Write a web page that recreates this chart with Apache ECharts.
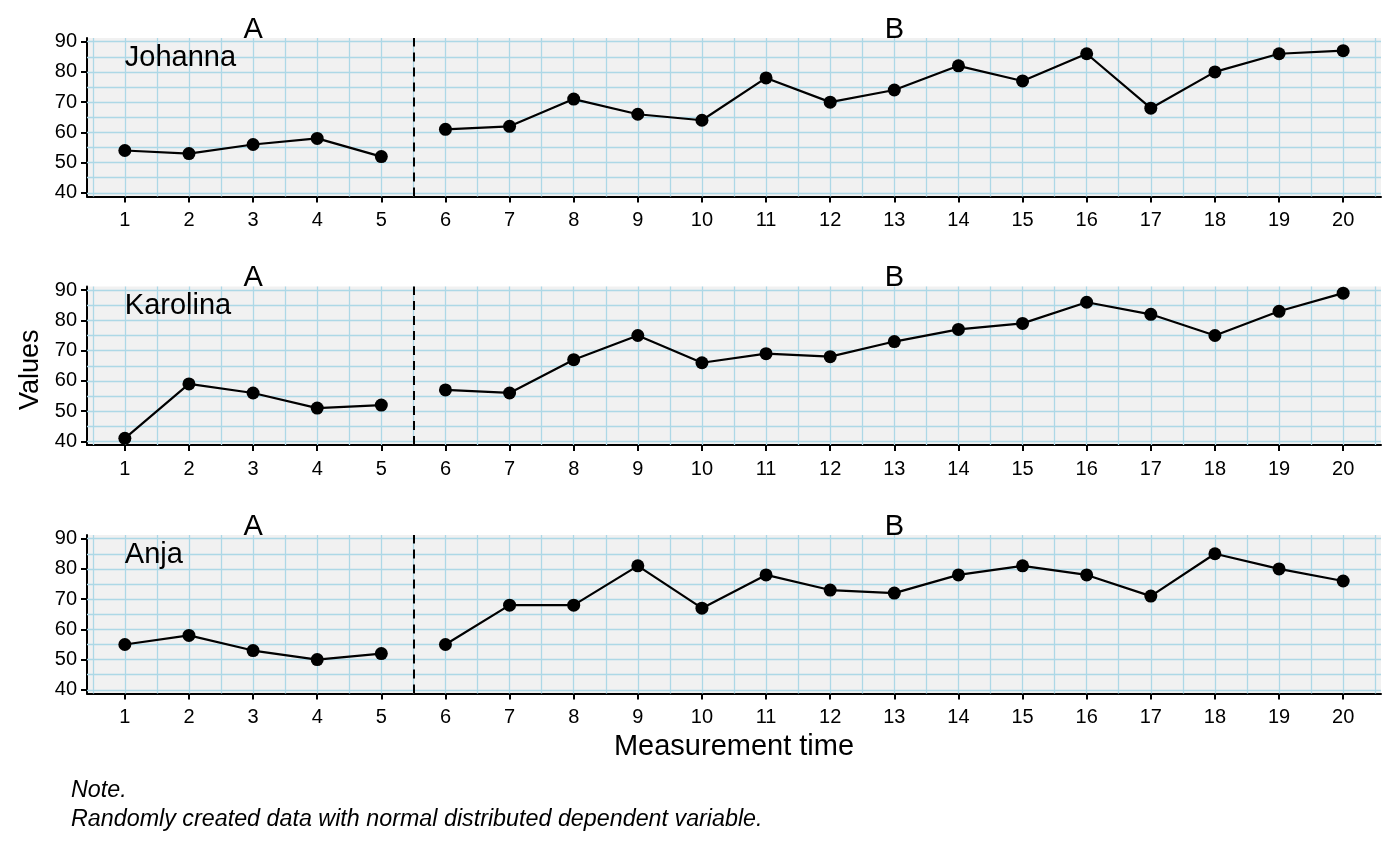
<!DOCTYPE html>
<html>
<head>
<meta charset="utf-8">
<script src="https://cdn.jsdelivr.net/npm/echarts@6/dist/echarts.min.js"></script>
<style>html,body{margin:0;padding:0;background:#fff}#c{width:1400px;height:866px}</style>
</head>
<body>
<div id="c"></div>
<script>
const cases = ['Johanna', 'Karolina', 'Anja'];
const phaseNames = ['A', 'B'];
const phaseA_x = [1, 2, 3, 4, 5];
const phaseB_x = [6, 7, 8, 9, 10, 11, 12, 13, 14, 15, 16, 17, 18, 19, 20];
const johannaA = [54, 53, 56, 58, 52];
const johannaB = [61, 62, 71, 66, 64, 78, 70, 74, 82, 77, 86, 68, 80, 86, 87];
const karolinaA = [41, 59, 56, 51, 52];
const karolinaB = [57, 56, 67, 75, 66, 69, 68, 73, 77, 79, 86, 82, 75, 83, 89];
const anjaA = [55, 58, 53, 50, 52];
const anjaB = [55, 68, 68, 81, 67, 78, 73, 72, 78, 81, 78, 71, 85, 80, 76];
const xTicks = [1, 2, 3, 4, 5, 6, 7, 8, 9, 10, 11, 12, 13, 14, 15, 16, 17, 18, 19, 20];
const xGridLines = [0.5, 1, 1.5, 2, 2.5, 3, 3.5, 4, 4.5, 5, 5.5, 6, 6.5, 7, 7.5, 8, 8.5, 9, 9.5, 10, 10.5,
  11, 11.5, 12, 12.5, 13, 13.5, 14, 14.5, 15, 15.5, 16, 16.5, 17, 17.5, 18, 18.5, 19, 19.5, 20, 20.5];
const yTicks = [40, 50, 60, 70, 80, 90];
const yGridLines = [40, 45, 50, 55, 60, 65, 70, 75, 80, 85, 90];
const phaseChange = 5.5;
const phaseLabelX = [3, 13];
const noteText = ['Note.', 'Randomly created data with normal distributed dependent variable.'];

const caseData = [[johannaA, johannaB], [karolinaA, karolinaB], [anjaA, anjaB]];

const FONT = 'Liberation Sans';
const gridTops = [38, 286.5, 535];
const GH = 158.5;
const XMIN = 0.41, XMAX = 20.59, YMIN = 38.8, YMAX = 91.2;
const gridCol = '#add8e6';

const grids = [], xAxes = [], yAxes = [], series = [];
cases.forEach((name, i) => {
  grids.push({left: 87, right: 19, top: gridTops[i], height: GH, show: true,
    backgroundColor: '#f1f1f1', borderWidth: 0});
  xAxes.push({
    type: 'value', gridIndex: i, min: XMIN, max: XMAX, position: 'bottom',
    name: i === 2 ? 'Measurement time' : '', nameLocation: 'middle', nameGap: 39,
    nameTextStyle: {fontFamily: FONT, fontSize: 29, color: '#000'},
    axisLine: {show: true, onZero: false, lineStyle: {color: '#000', width: 2}},
    axisTick: {show: true, length: 6, lineStyle: {color: '#000', width: 2}, customValues: xTicks},
    axisLabel: {customValues: xTicks, fontFamily: FONT, fontSize: 20, color: '#000', margin: 14},
    splitLine: {show: false}, minorSplitLine: {show: false}
  });
  yAxes.push({
    type: 'value', gridIndex: i, min: YMIN, max: YMAX, position: 'left',
    name: i === 1 ? 'Values' : '', nameLocation: 'middle', nameGap: 39,
    nameTextStyle: {fontFamily: FONT, fontSize: 27, color: '#000', padding: [0, 8, 0, 0]},
    axisLine: {show: true, onZero: false, lineStyle: {color: '#000', width: 2}},
    axisTick: {show: true, length: 6, lineStyle: {color: '#000', width: 2}, customValues: yTicks},
    axisLabel: {customValues: yTicks, fontFamily: FONT, fontSize: 20, color: '#000', margin: 10},
    splitLine: {show: false}, minorSplitLine: {show: false}
  });
  // background grid lines (through the axes' scales)
  series.push({
    type: 'line', xAxisIndex: i, yAxisIndex: i, z: 1, silent: true,
    data: caseData[i][0].map((v, k) => [phaseA_x[k], v]),
    symbol: 'none', lineStyle: {opacity: 0}, itemStyle: {opacity: 0},
    markLine: {silent: true, symbol: 'none', animation: false, label: {show: false},
      lineStyle: {color: gridCol, width: 1.3, type: 'solid'},
      emphasis: {disabled: true},
      data: xGridLines.map(v => ({xAxis: v})).concat(yGridLines.map(v => ({yAxis: v})))}
  });
  const xs = [phaseA_x, phaseB_x];
  caseData[i].forEach((vals, p) => {
    const s = {
      type: 'line', xAxisIndex: i, yAxisIndex: i,
      data: vals.map((v, k) => [xs[p][k], v]),
      symbol: 'circle', symbolSize: 13, showSymbol: true,
      itemStyle: {color: '#000'}, lineStyle: {color: '#000', width: 2.2},
      z: 5, silent: true
    };
    const mp = [{coord: [phaseLabelX[p], 91], value: phaseNames[p],
      label: {formatter: phaseNames[p], offset: [0, -9]}}];
    if (p === 0) {
      mp.push({coord: [1, 84.7], value: name,
        label: {formatter: name, align: 'left', offset: [0, 0]}});
      s.markLine = {silent: true, symbol: 'none', animation: false,
        label: {show: false},
        lineStyle: {color: '#000', width: 2, type: [9, 6]},
        data: [{xAxis: phaseChange}]};
    }
    s.markPoint = {silent: true, symbol: 'circle', symbolSize: 0, animation: false,
      label: {show: true, position: 'inside', fontFamily: FONT, fontSize: 29, color: '#000'},
      data: mp};
    series.push(s);
  });
});

const chart = echarts.init(document.getElementById('c'));
chart.setOption({
  animation: false,
  backgroundColor: '#fff',
  title: {text: noteText.join('\n'), left: 66, top: 771,
    textStyle: {fontFamily: FONT, fontSize: 23.3, fontStyle: 'italic', fontWeight: 'normal',
      color: '#000', lineHeight: 29}},
  grid: grids, xAxis: xAxes, yAxis: yAxes, series: series
});
</script>
</body>
</html>
